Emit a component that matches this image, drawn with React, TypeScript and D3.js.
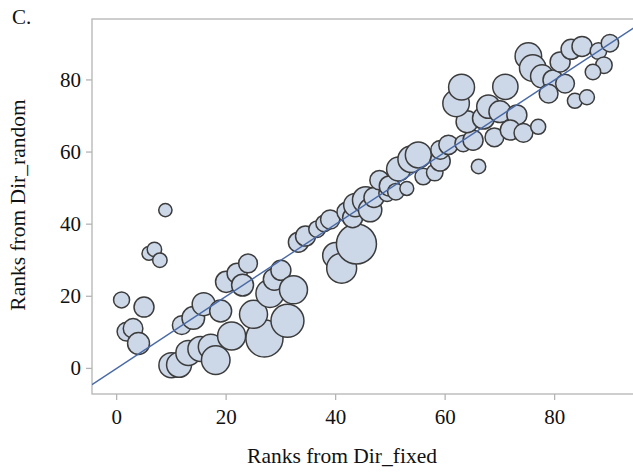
import React from "react";
import * as d3 from "d3";

// ranks, one entry per bubble
const xRanks = [
  0.9, 5.0, 1.8, 3.0, 4.0, 8.9, 5.9, 6.9, 7.9,
  11.9, 14.0, 15.9, 19.0, 20.0, 22.0, 24.0, 23.0, 10.0, 11.4, 13.1, 15.3, 17.2, 18.1,
  21.0, 27.0, 25.0, 28.0, 28.8, 30.0, 32.3, 31.2,
  40.0, 41.1, 43.8, 33.2, 34.5, 36.6, 37.9, 39.0, 42.0, 43.1, 43.6, 45.5, 46.3, 47.0,
  48.0, 49.4, 49.8, 51.0, 53.0, 51.5, 53.8, 55.1, 56.0, 58.1, 59.1, 59.1, 60.6, 63.3,
  66.1, 65.1, 69.0, 64.0, 67.0, 67.9, 70.0, 73.1, 71.9, 74.3, 77.0, 62.0, 63.0, 71.0,
  75.2, 76.0, 77.7, 79.7, 81.9, 78.9, 81.0, 83.0, 85.0, 88.0, 90.1, 89.0, 87.0, 83.7, 85.9,
];
const yRanks = [
  19.0, 17.0, 10.2, 11.1, 6.9, 43.9, 31.9, 33.0, 30.0,
  12.0, 14.0, 17.8, 15.9, 24.0, 26.4, 29.1, 23.1, 0.9, 1.0, 4.3, 5.4, 6.0, 2.3,
  9.0, 8.3, 15.0, 20.8, 24.7, 27.2, 21.8, 13.2,
  31.3, 27.8, 34.5, 35.0, 36.7, 38.6, 40.2, 41.3, 43.4, 41.8, 45.3, 46.7, 43.9, 47.4,
  52.2, 48.6, 50.6, 49.0, 49.9, 55.3, 58.0, 59.2, 53.2, 54.3, 57.5, 60.6, 62.0, 62.4,
  56.0, 63.3, 64.1, 68.4, 69.4, 72.6, 71.2, 70.3, 66.1, 65.3, 67.0, 73.5, 78.0, 78.1,
  86.6, 83.3, 81.0, 80.0, 79.0, 76.2, 85.0, 88.5, 89.3, 88.0, 90.2, 84.1, 82.2, 74.2, 75.2,
];
const weights = [
  16, 25, 22, 24, 30, 11, 12, 13, 13,
  22, 32, 33, 30, 28, 25, 22, 30, 39, 39, 39, 39, 39, 51,
  49, 86, 49, 49, 30, 25, 49, 68,
  42, 56, 100, 25, 25, 17, 17, 23, 23, 25, 34, 44, 34, 25,
  23, 17, 25, 17, 12, 36, 44, 42, 17, 17, 25, 22, 23, 17,
  13, 25, 22, 30, 30, 34, 30, 25, 25, 22, 14, 44, 42, 40,
  44, 44, 33, 25, 22, 22, 25, 25, 25, 17, 19, 17, 15, 14, 14,
];

const xTicks = [0, 20, 40, 60, 80];
const yTicks = [0, 20, 40, 60, 80];

// fitted line
const fitSlope = 1.0;
const fitIntercept = 0.0;

const W = 633;
const H = 474;
const serif = "'Liberation Serif', 'Times New Roman', serif";

export default function App() {
  const x = d3.scaleLinear().domain([-4.5, 95.5]).range([92, 639.5]);
  const y = d3.scaleLinear().domain([-7.1, 96.9]).range([394, 19]);
  const r = d3.scaleSqrt().domain([0, 100]).range([0, 20]);

  const [x0, x1] = x.domain();
  const fitPts: [number, number][] = [x0, x1].map((v) => [x(v), y(fitIntercept + fitSlope * v)]);
  const line = d3.line<[number, number]>();

  const points = xRanks.map((v, i) => ({ x: v, y: yRanks[i], w: weights[i] }));

  return (
    <svg
      width={W}
      height={H}
      style={{ position: "absolute", left: 0, top: 0, background: "#fff" }}
      fontFamily={serif}
    >
      <defs>
        <clipPath id="plotClip">
          <rect x={92} y={19} width={548} height={375} />
        </clipPath>
      </defs>

      <text x={12} y={24} fontSize={21} fill="#111">C.</text>

      {/* frame */}
      <rect x={92} y={19} width={548} height={375} fill="none" stroke="#b4b4b4" strokeWidth={1.3} />

      <g clipPath="url(#plotClip)">
        {points.map((d, i) => (
          <circle
            key={i}
            cx={x(d.x)}
            cy={y(d.y)}
            r={r(d.w)}
            fill="#ccd7e8"
            stroke="#3c3c3c"
            strokeWidth={1.5}
          />
        ))}
        <path d={line(fitPts) || ""} fill="none" stroke="#4a6aa6" strokeWidth={1.4} />
      </g>

      {/* x axis */}
      {xTicks.map((t) => (
        <g key={"x" + t}>
          <line x1={x(t)} x2={x(t)} y1={394} y2={400} stroke="#b4b4b4" strokeWidth={1.3} />
          <text x={x(t)} y={424} textAnchor="middle" fontSize={21} fill="#111">{t}</text>
        </g>
      ))}
      {/* y axis */}
      {yTicks.map((t) => (
        <g key={"y" + t}>
          <line x1={86} x2={92} y1={y(t)} y2={y(t)} stroke="#b4b4b4" strokeWidth={1.3} />
          <text x={81} y={y(t) + 7} textAnchor="end" fontSize={21} fill="#111">{t}</text>
        </g>
      ))}

      <text x={342} y={463} textAnchor="middle" fontSize={21.5} fill="#111">Ranks from Dir_fixed</text>
      <text
        transform={`translate(25,205) rotate(-90)`}
        textAnchor="middle"
        fontSize={21.5}
        fill="#111"
      >
        Ranks from Dir_random
      </text>
    </svg>
  );
}
